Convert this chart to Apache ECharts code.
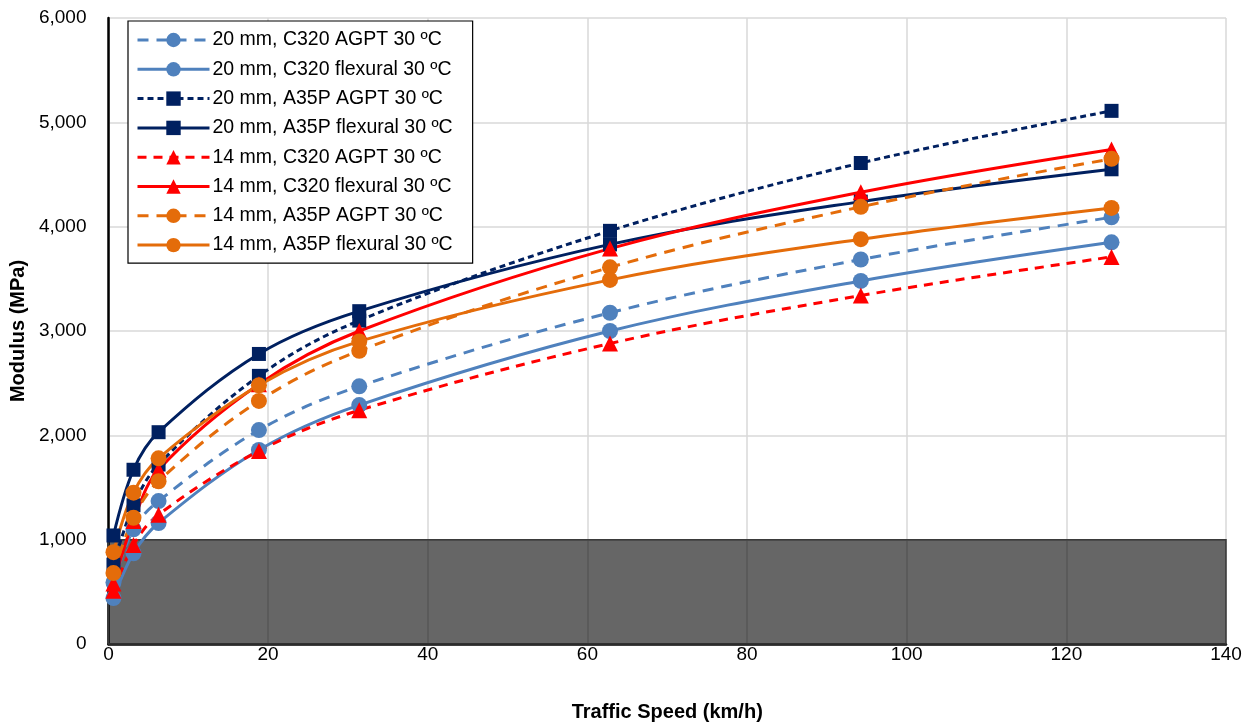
<!DOCTYPE html>
<html>
<head>
<meta charset="utf-8">
<script src="https://cdn.jsdelivr.net/npm/echarts@6/dist/echarts.min.js"></script>
<style>html,body{margin:0;padding:0;background:#fff;}#c{width:1254px;height:727px;}</style>
</head>
<body>
<div id="c"></div>
<script>
var speeds = [0.628, 3.14, 6.28, 18.85, 31.42, 62.83, 94.25, 125.66];
var seriesNames = [
  '20 mm, C320 AGPT 30 ºC',
  '20 mm, C320 flexural 30 ºC',
  '20 mm, A35P AGPT 30 ºC',
  '20 mm, A35P flexural 30 ºC',
  '14 mm, C320 AGPT 30 ºC',
  '14 mm, C320 flexural 30 ºC',
  '14 mm, A35P AGPT 30 ºC',
  '14 mm, A35P flexural 30 ºC'
];
var c320Agpt20 = [590, 1100, 1370, 2050, 2470, 3175, 3685, 4090];
var c320Flex20 = [440, 870, 1160, 1860, 2290, 3000, 3480, 3850];
var a35pAgpt20 = [760, 1330, 1720, 2570, 3100, 3960, 4610, 5110];
var a35pFlex20 = [1040, 1670, 2030, 2780, 3190, 3830, 4240, 4550];
var c320Agpt14 = [510, 950, 1240, 1850, 2240, 2880, 3340, 3710];
var c320Flex14 = [580, 1180, 1670, 2490, 3000, 3790, 4330, 4740];
var a35pAgpt14 = [680, 1210, 1560, 2330, 2810, 3610, 4190, 4650];
var a35pFlex14 = [880, 1450, 1780, 2480, 2900, 3490, 3880, 4180];
var shadedX = [0, 140];
var shadedY = [0, 1000];

var values = [c320Agpt20, c320Flex20, a35pAgpt20, a35pFlex20, c320Agpt14, c320Flex14, a35pAgpt14, a35pFlex14];
var styles = [
  {color: '#4F81BD', dash: [11, 8], sym: 'circle', size: 16},
  {color: '#4F81BD', dash: 'solid', sym: 'circle', size: 16},
  {color: '#002060', dash: [6, 4], sym: 'rect', size: 14},
  {color: '#002060', dash: 'solid', sym: 'rect', size: 14},
  {color: '#FF0000', dash: [9, 7], sym: 'triangle', size: 16},
  {color: '#FF0000', dash: 'solid', sym: 'triangle', size: 16},
  {color: '#E46C0A', dash: [11, 8], sym: 'circle', size: 16},
  {color: '#E46C0A', dash: 'solid', sym: 'circle', size: 16}
];

function pairs(xs, ys) { return xs.map(function (x, i) { return [x, ys[i]]; }); }

var series = seriesNames.map(function (n, i) {
  var s = styles[i];
  return {
    name: n, type: 'line', data: pairs(speeds, values[i]), smooth: 0.35,
    symbol: s.sym, symbolSize: s.size, z: 2,
    lineStyle: {color: s.color, width: 3, type: s.dash},
    itemStyle: {color: s.color}
  };
});
series.push({
  name: 'shade', type: 'line', data: [], z: 10, silent: true,
  markArea: {
    silent: true,
    itemStyle: {color: 'rgba(0,0,0,0.6)', borderColor: '#3a3a3a', borderWidth: 1.5},
    data: [[{coord: [shadedX[0], shadedY[0]]}, {coord: [shadedX[1], shadedY[1]]}]]
  }
});

var chart = echarts.init(document.getElementById('c'));
chart.setOption({
  animation: false,
  backgroundColor: '#fff',
  textStyle: {fontFamily: 'Liberation Sans, Arial, sans-serif'},
  grid: {left: 108, right: 28, top: 18, bottom: 83, containLabel: false},
  legend: {
    data: seriesNames,
    orient: 'vertical', left: 128, top: 21,
    backgroundColor: '#fff', borderColor: '#000', borderWidth: 1.2,
    padding: [8, 20, 7, 8],
    itemWidth: 72, itemHeight: 18, itemGap: 7.3,
    lineStyle: {width: 3},
    textStyle: {fontSize: 19.5, color: '#000', lineHeight: 22, padding: [0, 0, 0, -2]}
  },
  xAxis: {
    type: 'value', min: 0, max: 140, interval: 20,
    name: 'Traffic Speed (km/h)', nameLocation: 'middle', nameGap: 58,
    nameTextStyle: {fontSize: 20, fontWeight: 'bold', color: '#000'},
    axisLine: {show: true, onZero: false, lineStyle: {color: '#000', width: 2.5}},
    axisTick: {show: false},
    axisLabel: {fontSize: 19, color: '#000', margin: 1},
    splitLine: {show: true, lineStyle: {color: '#d9d9d9', width: 1.5}}
  },
  yAxis: {
    type: 'value', min: 0, max: 6000, interval: 1000,
    name: 'Modulus (MPa)', nameLocation: 'middle', nameGap: 73,
    nameTextStyle: {fontSize: 20, fontWeight: 'bold', color: '#000'},
    axisLine: {show: true, lineStyle: {color: '#000', width: 2.5}},
    axisTick: {show: false},
    axisLabel: {fontSize: 19, color: '#000', margin: 22,
      formatter: function (v) { return v.toLocaleString('en-US'); }},
    splitLine: {show: true, lineStyle: {color: '#d9d9d9', width: 1.5}}
  },
  series: series
});
</script>
</body>
</html>
